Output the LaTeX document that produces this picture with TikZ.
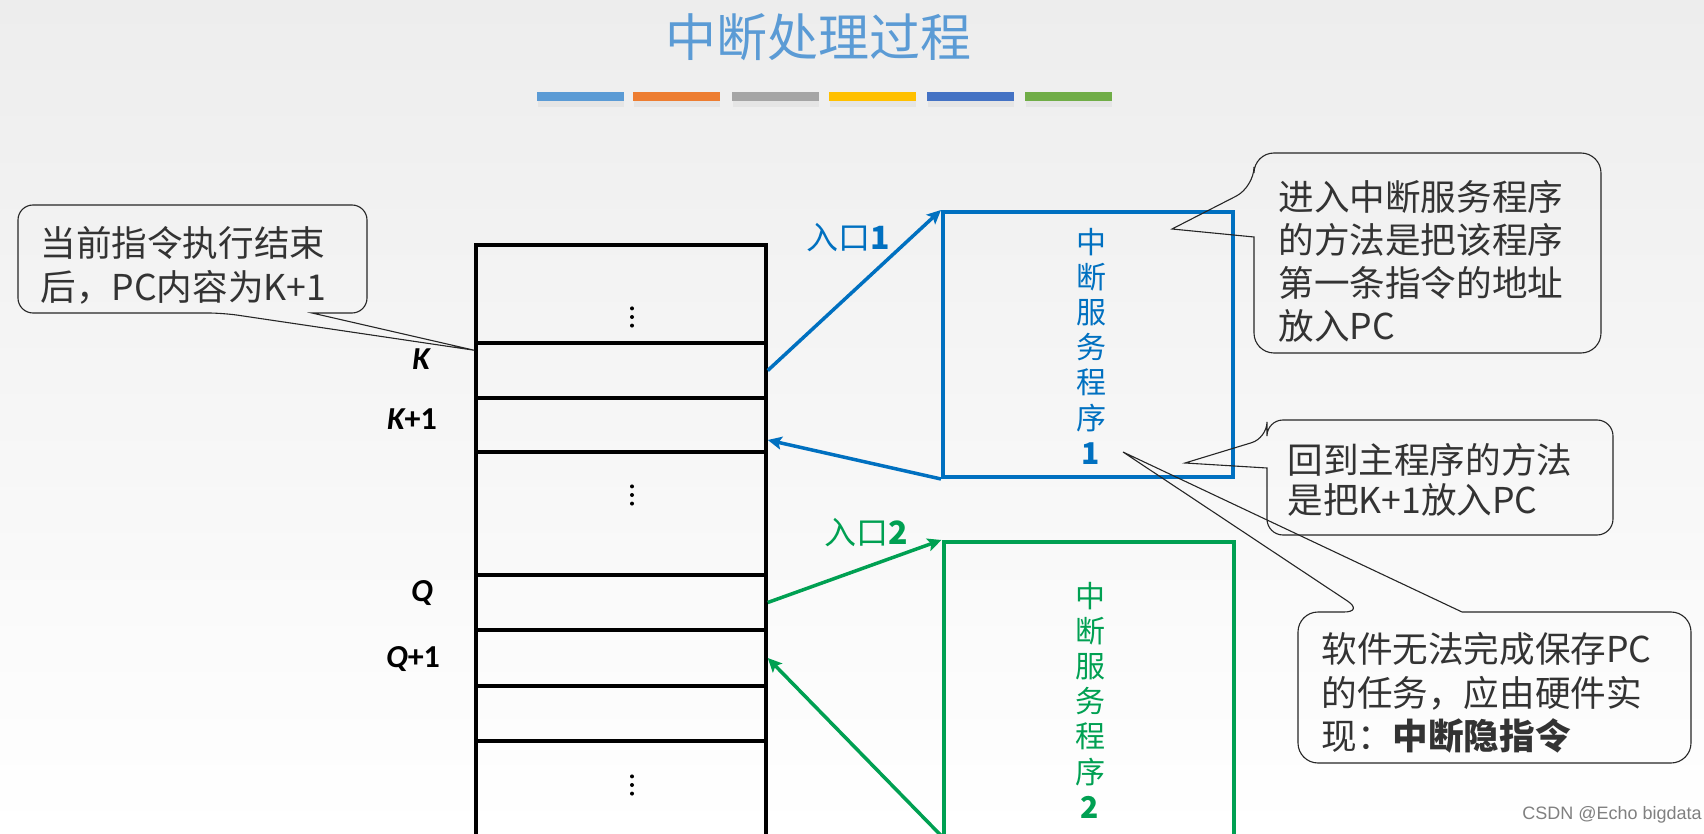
\documentclass[tikz,border=0pt]{standalone}
\usepackage{fontspec}
\setmainfont{Noto Sans CJK SC}
\newfontfamily\calfont{Carlito}
\newfontfamily\wmfont{Liberation Sans}
\usetikzlibrary{arrows.meta,calc}
\definecolor{bgtop}{RGB}{237,237,237}
\definecolor{titleblue}{RGB}{91,155,213}
\definecolor{pblue}{RGB}{0,112,192}
\definecolor{pgreen}{RGB}{0,160,82}
\definecolor{bar1}{RGB}{91,155,213}
\definecolor{bar2}{RGB}{237,125,49}
\definecolor{bar3}{RGB}{165,165,165}
\definecolor{bar4}{RGB}{255,192,0}
\definecolor{bar5}{RGB}{68,114,196}
\definecolor{bar6}{RGB}{112,173,71}
\begin{document}
\begin{tikzpicture}[x=0.5pt,y=-0.5pt,
  memrow/.style={draw=black, line width=1.75pt, minimum width=145pt, inner sep=0pt},
  lbl/.style={font=\calfont\bfseries\fontsize{16pt}{18pt}\selectfont, inner sep=0pt},
  isrbox/.style={line width=2pt, minimum width=145pt, inner sep=0pt},
  isrtext/.style={font=\fontsize{15pt}{17.6pt}\selectfont, align=center, inner sep=0pt},
  conn/.style={line width=1.75pt, -{Stealth[length=7pt,width=6.5pt,inset=1.5pt]}},
  entry/.style={font=\fontsize{16pt}{18pt}\selectfont, inner sep=0pt},
  callout/.style={draw=black!85, line width=0.55pt},
  ctext/.style={align=left, inner sep=0pt, text=black!80, anchor=west}
]
\useasboundingbox (0,0) rectangle (1704,834);
\shade[top color=bgtop, bottom color=white] (0,0) rectangle (1704,834);

% title
\node[font=\fontsize{25.5pt}{30pt}\selectfont, text=titleblue, inner sep=0pt] (title) at (818,37) {中断处理过程};
\foreach \x/\c in {537/bar1,633/bar2,732/bar3,829/bar4,927/bar5,1025/bar6}{
  \fill[black!10] (\x+1,101) rectangle (\x+87,107);
  \fill[\c] (\x,92) rectangle (\x+87,101);
}

% memory column
\node[memrow, minimum height=49pt]   (r0)  at (621,294)   {};
\node[memrow, minimum height=27.5pt] (rK)  at (621,370.5) {};
\node[memrow, minimum height=27pt]   (rK1) at (621,425)   {};
\node[memrow, minimum height=61.5pt] (r3)  at (621,513.5) {};
\node[memrow, minimum height=27.5pt] (rQ)  at (621,602.5) {};
\node[memrow, minimum height=28pt]   (rQ1) at (621,658)   {};
\node[memrow, minimum height=27.5pt] (r6)  at (621,713.5) {};
\node[memrow, minimum height=64.5pt] (r7)  at (621,805.5) {};
\foreach \y in {317,495,785}{
  \fill (632,\y-8.6) circle (1pt);
  \fill (632,\y) circle (1pt);
  \fill (632,\y+8.6) circle (1pt);
}

% address labels
\node[lbl] (lK)  at (421,359) {\itshape K};
\node[lbl] (lK1) at (412,419) {{\itshape K}+1};
\node[lbl] (lQ)  at (422,593) {\itshape Q};
\node[lbl] (lQ1) at (413,659) {{\itshape Q}+1};

% service routines
\node[isrbox, draw=pblue, minimum height=132.5pt] (isr1) at (1088,344.5) {};
\node[isrtext, text=pblue] (isr1t) at (1091,346) {中\\断\\服\\务\\程\\序\\\textbf{1}};
\node[isrbox, draw=pgreen, minimum height=159pt] (isr2) at (1088.5,701) {};
\node[isrtext, text=pgreen] (isr2t) at (1090,700) {中\\断\\服\\务\\程\\序\\\textbf{2}};

% connectors
\draw[conn, pblue] (rK.east) -- (isr1.north west);
\draw[conn, pblue] (isr1.south west) -- ([yshift=-7.5pt]rK1.east);
\draw[conn, pgreen] (rQ.east) -- (isr2.north west);
\coordinate (g4) at ([yshift=13pt]isr2.south west);
\draw[conn, pgreen] (g4) -- (rQ1.east);
\node[entry, text=pblue] (e1) at (848,238) {入口\textbf{1}};
\node[entry, text=pgreen] (e2) at (866,533) {入口\textbf{2}};

% callout 1
\coordinate (t1) at ([yshift=-4.5pt]rK.north west);
\draw[callout] (312,313) [rounded corners=7.5pt] -- (367,313) -- (367,205) -- (18,205) -- (18,313) -- (223,313) [sharp corners] -- (t1) -- cycle;
\node[ctext, font=\fontsize{17.8pt}{22pt}\selectfont] (c1) at (40,265) {当前指令执行结束\\后，PC内容为K+1};

% callout 2
\coordinate (t2) at (1172,229);
\draw[callout] (1254,237) [rounded corners=10pt] -- (1254,353) -- (1601,353) -- (1601,153) -- (1254,153) -- (1254,187) [sharp corners] -- (t2) -- cycle;
\node[ctext, font=\fontsize{17.8pt}{21.5pt}\selectfont] (c2) at (1278,261.5) {进入中断服务程序\\的方法是把该程序\\第一条指令的地址\\放入PC};

% callout 3
\coordinate (t3) at (1185,463);
\draw[callout] (1267,468) [rounded corners=8pt] -- (1267,535) -- (1613,535) -- (1613,420) -- (1267,420) -- (1267,438) [sharp corners] -- (t3) -- cycle;
\node[ctext, font=\fontsize{17.8pt}{20pt}\selectfont] (c3) at (1287,480) {回到主程序的方法\\是把K+1放入PC};

% callout 4
\coordinate (t4) at (1123,452);
\draw[callout] (1462,612) [rounded corners=10pt] -- (1691,612) -- (1691,763) -- (1298,763) -- (1298,612) -- (1364,612) [sharp corners] -- (t4) -- cycle;
\node[ctext, font=\fontsize{17.8pt}{21.75pt}\selectfont] (c4) at (1321,693) {软件无法完成保存PC\\的任务，应由硬件实\\现：{\bfseries 中断隐指令}};

% watermark
\node[font=\wmfont\fontsize{9pt}{10pt}\selectfont, text=black!50, anchor=west, inner sep=0pt] (wm) at (1522,815) {CSDN @Echo bigdata};
\end{tikzpicture}
\end{document}
